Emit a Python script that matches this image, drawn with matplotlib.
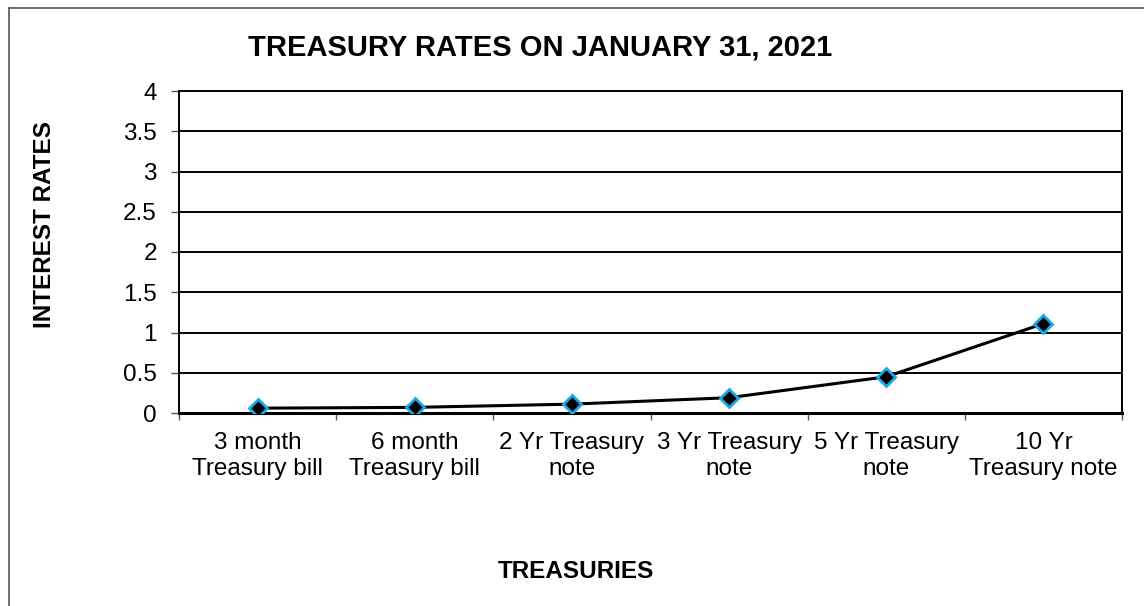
import matplotlib.pyplot as plt
import numpy as np

plt.rcParams['font.family'] = ['Liberation Sans', 'DejaVu Sans']

categories = ['3 month\nTreasury bill', '6 month\nTreasury bill', '2 Yr Treasury\nnote',
              '3 Yr Treasury\nnote', '5 Yr Treasury\nnote', '10 Yr\nTreasury note']
rates = [0.06, 0.07, 0.11, 0.19, 0.45, 1.11]
yticks = [0, 0.5, 1, 1.5, 2, 2.5, 3, 3.5, 4]
ytick_labels = ['0', '0.5', '1', '1.5', '2', '2.5', '3', '3.5', '4']

W, H = 1144, 606
fig = plt.figure(figsize=(W / 100, H / 100), dpi=100)

# outer chart border (left and top visible)
fig.add_artist(plt.Line2D([8.5 / W, 8.5 / W], [0, 1 - 8 / H], color='#555555', lw=1.2))
fig.add_artist(plt.Line2D([8.5 / W, 1], [1 - 8 / H, 1 - 8 / H], color='#555555', lw=1.2))

ax = fig.add_axes([179 / W, 1 - 413 / H, 943 / W, 322 / H])
x = np.arange(len(categories))

for y in yticks[1:]:
    ax.axhline(y, color='black', lw=1.4, zorder=1)

ax.plot(x, rates, color='black', lw=2.2, marker='D', markersize=9,
        markerfacecolor='black', markeredgecolor='#1ba9e6', markeredgewidth=2, zorder=3)

ax.set_xlim(-0.5, len(categories) - 0.5)
ax.set_ylim(0, 4)
ax.set_yticks(yticks)
ax.set_yticklabels(ytick_labels, fontsize=17.5)
ax.set_xticks(x)
ax.set_xticklabels(categories, fontsize=17.5, linespacing=1.22)
ax.set_xticks(np.arange(-0.5, len(categories)), minor=True)
ax.tick_params(axis='x', which='major', length=0, pad=14)
ax.tick_params(axis='x', which='minor', length=5, color='#555555', width=1)
ax.tick_params(axis='y', length=6, width=1, color='#555555', pad=10)

for s in ['left', 'right', 'top']:
    ax.spines[s].set_linewidth(1.4)
ax.spines['bottom'].set_linewidth(2.2)

fig.text(540 / W, 1 - 48 / H, 'TREASURY RATES ON JANUARY 31, 2021', ha='center', va='center',
         fontsize=21, fontweight='bold')
fig.text(45 / W, 1 - 224 / H, 'INTEREST RATES', ha='center', va='center', rotation=90,
         fontsize=17.5, fontweight='bold')
fig.text(576 / W, 1 - 572 / H, 'TREASURIES', ha='center', va='center',
         fontsize=17.5, fontweight='bold')

fig.savefig('out.png', dpi=100)
